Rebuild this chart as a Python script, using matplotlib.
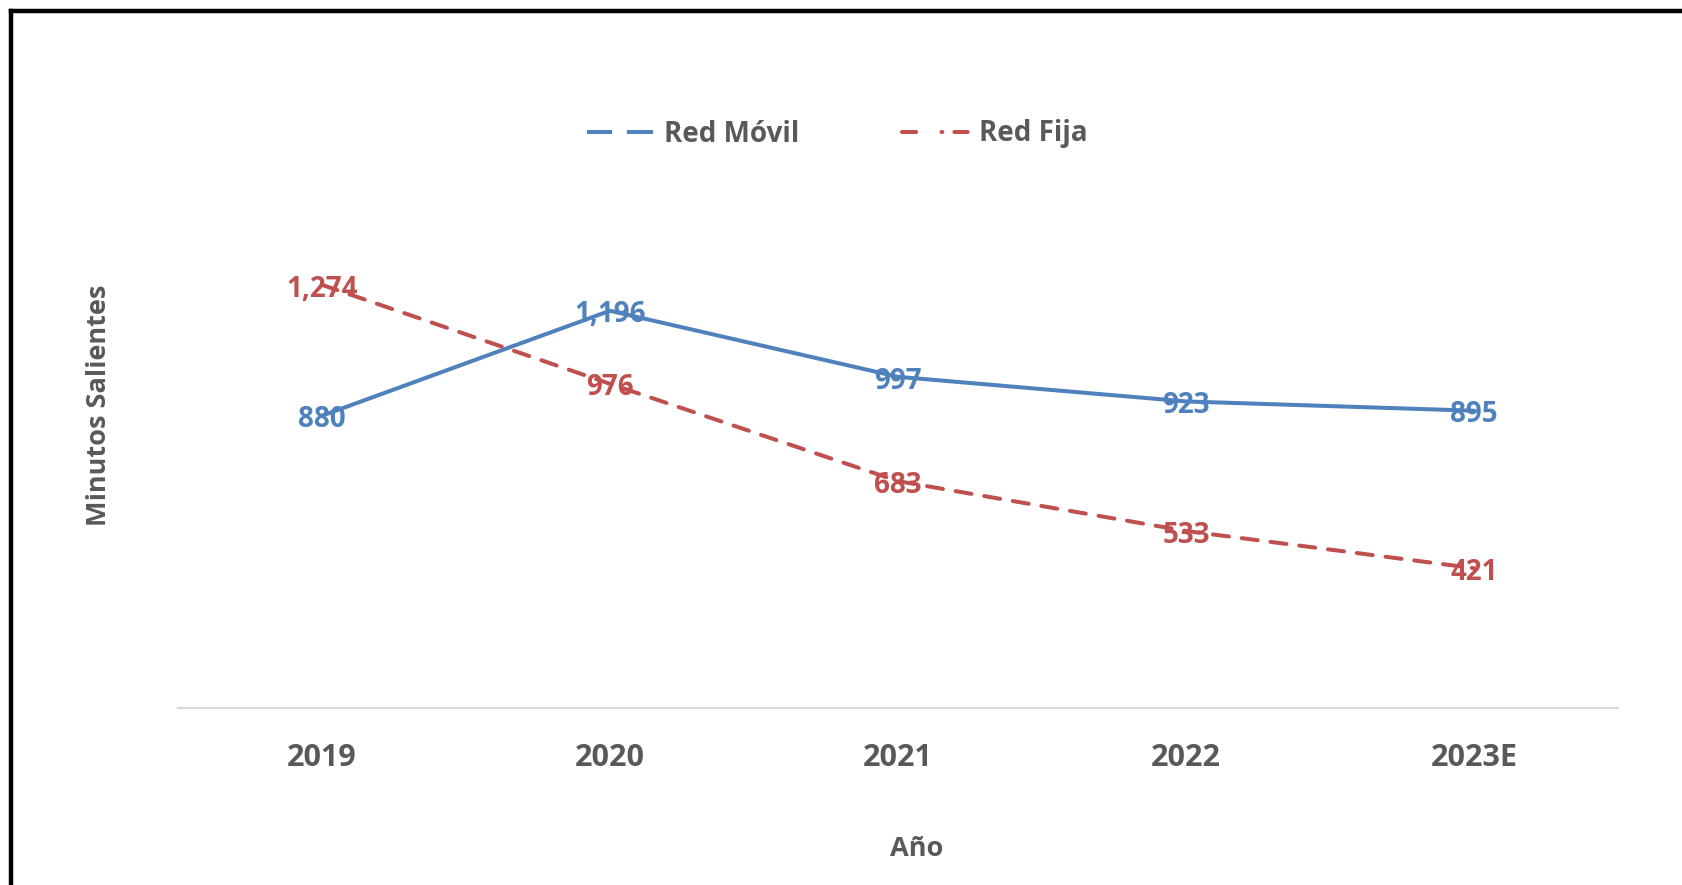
import matplotlib
matplotlib.use("Agg")
import matplotlib.pyplot as plt
from matplotlib.lines import Line2D

years = ["2019", "2020", "2021", "2022", "2023E"]
red_movil = [880, 1196, 997, 923, 895]
red_fija = [1274, 976, 683, 533, 421]
labels_movil = ["880", "1,196", "997", "923", "895"]
labels_fija = ["1,274", "976", "683", "533", "421"]

BLUE = "#4F81BD"
RED = "#C0504D"
GREY = "#595959"
FONT = ["Open Sans", "DejaVu Sans"]
plt.rcParams["font.family"] = FONT

W, H = 1682, 885
fig = plt.figure(figsize=(W / 100, H / 100), dpi=100)
ax = fig.add_axes([178 / W, 1 - 708 / H, (1618 - 178) / W, (708 - 243) / H])

x = list(range(len(years)))
ax.plot(x, red_movil, color=BLUE, lw=2.9, solid_capstyle="round", zorder=2)
ax.plot(x, red_fija, color=RED, lw=2.9, linestyle=(0, (4, 3.2)), dash_capstyle="round", zorder=2)

for xi, v, s in zip(x, red_movil, labels_movil):
    ax.annotate(s, (xi, v), xytext=(0, -3), textcoords="offset points", color=BLUE, fontsize=20,
                fontweight="bold", ha="center", va="center", zorder=3)
for xi, v, s in zip(x, red_fija, labels_fija):
    ax.annotate(s, (xi, v), xytext=(0, -3), textcoords="offset points", color=RED, fontsize=20,
                fontweight="bold", ha="center", va="center", zorder=3)

ax.set_xlim(-0.5, len(years) - 0.5)
ax.set_ylim(0, 1400)
ax.set_xticks(x)
ax.set_xticklabels(years, fontsize=22, fontweight="bold", color=GREY)
ax.tick_params(axis="x", length=0, pad=25)
ax.set_yticks([])
for side in ["left", "right", "top"]:
    ax.spines[side].set_visible(False)
ax.spines["bottom"].set_color("#D9D9D9")
ax.spines["bottom"].set_linewidth(1.5)
ax.patch.set_visible(False)

fig.text(917 / W, 1 - 849 / H, "Año", fontsize=19.5, fontweight="bold", color=GREY, ha="center", va="center")
fig.text(99 / W, 1 - 405 / H, "Minutos Salientes", fontsize=19.5, fontweight="bold", color=GREY,
         ha="center", va="center", rotation=90)

h_blue = Line2D([], [], color=BLUE, lw=2.9, linestyle=(0, (6.2, 3.7, 6.5)), solid_capstyle="round")
h_red = Line2D([], [], color=RED, lw=2.9, linestyle=(0, (3.5, 6.3, 0.2, 3.0, 3.3)), dash_capstyle="round")
leg = fig.legend([h_blue, h_red], ["Red Móvil", "Red Fija"], loc="center",
                 bbox_to_anchor=(837 / W, 1 - 134 / H), ncol=2, frameon=False,
                 handlelength=2.5, handletextpad=0.27, columnspacing=3.7,
                 borderpad=0, borderaxespad=0,
                 prop={"family": FONT, "weight": "bold", "size": 20})
for t in leg.get_texts():
    t.set_color(GREY)

# outer frame (left and top edges visible)
fig.add_artist(Line2D([11 / W, 11 / W], [0, 1 - 11 / H], transform=fig.transFigure, color="black", lw=3.2,
                      solid_capstyle="projecting"))
fig.add_artist(Line2D([11 / W, 1], [1 - 11 / H, 1 - 11 / H], transform=fig.transFigure, color="black", lw=3.2,
                      solid_capstyle="projecting"))

fig.savefig("out.png", dpi=100)
